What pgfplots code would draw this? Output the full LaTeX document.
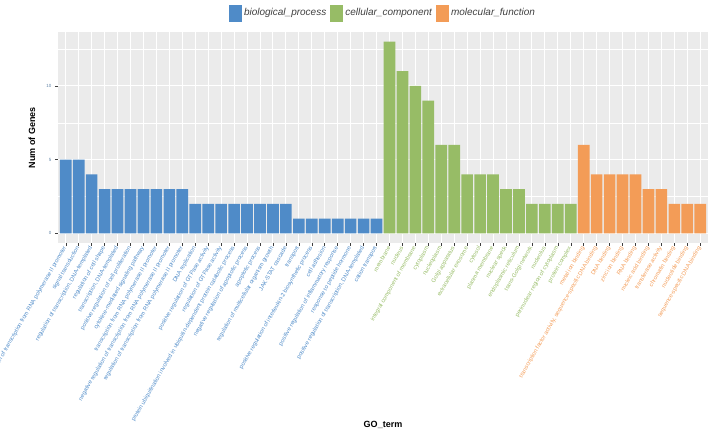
\documentclass[border=0pt]{standalone}
\usepackage{fontspec}
\setmainfont{Liberation Sans}
\usepackage{xcolor}
\usepackage{pgfplots}
\usepackage{pgfplotstable}
\pgfplotsset{compat=1.18}
\usetikzlibrary{calc}

\definecolor{bp}{RGB}{79,139,200}
\definecolor{cc}{RGB}{151,188,102}
\definecolor{mf}{RGB}{243,156,87}
\definecolor{panel}{RGB}{235,235,235}
\definecolor{ytxt}{RGB}{95,130,165}

\newcommand{\B}[1]{\textcolor{bp}{#1}}
\newcommand{\C}[1]{\textcolor{cc}{#1}}
\newcommand{\M}[1]{\textcolor{mf}{#1}}

% biological_process
\pgfplotstableread{
x y
1 5
2 5
3 4
4 3
5 3
6 3
7 3
8 3
9 3
10 3
11 2
12 2
13 2
14 2
15 2
16 2
17 2
18 2
19 1
20 1
21 1
22 1
23 1
24 1
25 1
}\bpdata

% cellular_component
\pgfplotstableread{
x y
26 13
27 11
28 10
29 9
30 6
31 6
32 4
33 4
34 4
35 3
36 3
37 2
38 2
39 2
40 2
}\ccdata

% molecular_function
\pgfplotstableread{
x y
41 6
42 4
43 4
44 4
45 4
46 3
47 3
48 2
49 2
50 2
}\mfdata

\begin{document}
\begin{tikzpicture}
\begin{axis}[
    name=ax,
    scale only axis,
    width=650pt,
    height=211pt,
    xmin=0.4, xmax=50.6,
    ymin=-0.65, ymax=13.65,
    axis background/.style={fill=panel},
    axis line style={draw=none},
    xtick={1,...,50},
    ytick={0,5,10},
    minor ytick={2.5,7.5,12.5},
    xmajorgrids, ymajorgrids, yminorgrids,
    major grid style={white, line width=0.9pt},
    minor grid style={white, line width=0.45pt},
    tick align=outside,
    xtick pos=bottom, ytick pos=left,
    major tick length=3pt,
    minor tick length=0pt,
    tick style={black!75, line width=0.5pt},
    yticklabel style={font=\fontsize{4.5}{5}\selectfont, text=ytxt,
        /pgf/number format/assume math mode=true},
    xticklabel style={rotate=60, anchor=east,
        font=\fontsize{5.8}{6}\selectfont, inner sep=1pt},
    xticklabels={
        {\B{positive regulation of transcription from RNA polymerase II promoter}},
        {\B{signal transduction}},
        {\B{regulation of transcription, DNA-templated}},
        {\B{regulation of cell shape}},
        {\B{transcription, DNA-templated}},
        {\B{positive regulation of cell proliferation}},
        {\B{cytokine-mediated signaling pathway}},
        {\B{transcription from RNA polymerase II promoter}},
        {\B{negative regulation of transcription from RNA polymerase II promoter}},
        {\B{regulation of transcription from RNA polymerase II promoter}},
        {\B{DNA replication}},
        {\B{positive regulation of GTPase activity}},
        {\B{regulation of GTPase activity}},
        {\B{protein ubiquitination involved in ubiquitin-dependent protein catabolic process}},
        {\B{negative regulation of apoptotic process}},
        {\B{apoptotic process}},
        {\B{regulation of multicellular organism growth}},
        {\B{JAK-STAT cascade}},
        {\B{transport}},
        {\B{positive regulation of interleukin-2 biosynthetic process}},
        {\B{cell adhesion}},
        {\B{positive regulation of inflammatory response}},
        {\B{response to peptide hormone}},
        {\B{positive regulation of transcription, DNA-templated}},
        {\B{cation transport}},
        {\C{membrane}},
        {\C{nucleus}},
        {\C{integral component of membrane}},
        {\C{cytoplasm}},
        {\C{nucleoplasm}},
        {\C{Golgi apparatus}},
        {\C{extracellular exosome}},
        {\C{cytosol}},
        {\C{plasma membrane}},
        {\C{nuclear speck}},
        {\C{endoplasmic reticulum}},
        {\C{trans-Golgi network}},
        {\C{nucleolus}},
        {\C{perinuclear region of cytoplasm}},
        {\C{protein complex}},
        {\M{metal ion binding}},
        {\M{transcription factor activity, sequence-specific DNA binding}},
        {\M{DNA binding}},
        {\M{zinc ion binding}},
        {\M{RNA binding}},
        {\M{nucleic acid binding}},
        {\M{transferase activity}},
        {\M{chromatin binding}},
        {\M{nucleotide binding}},
        {\M{sequence-specific DNA binding}}
    },
    xlabel={GO\_term},
    ylabel={Num of Genes},
    xlabel style={at={(axis description cs:0.5,-0.8626)}, anchor=center,
        font=\fontsize{9}{10}\selectfont\bfseries},
    ylabel style={at={(axis description cs:-0.04,0.5)}, anchor=center,
        rotate=0, font=\fontsize{9}{10}\selectfont\bfseries},
    legend style={at={(axis description cs:0.5,1.09)}, anchor=center,
        draw=none, fill=none, legend columns=3,
        font=\fontsize{10}{11}\selectfont\itshape, text=black!75,
        /tikz/every even column/.append style={column sep=2pt}},
    legend image code/.code={\fill[#1] (0pt,-8.5pt) rectangle (13pt,8.5pt);},
]
\addplot[ybar, bar width=0.9, fill=bp, draw=none] table[x=x, y=y] {\bpdata};
\addlegendentry{biological\_process}
\addplot[ybar, bar width=0.9, fill=cc, draw=none] table[x=x, y=y] {\ccdata};
\addlegendentry{cellular\_component}
\addplot[ybar, bar width=0.9, fill=mf, draw=none] table[x=x, y=y] {\mfdata};
\addlegendentry{molecular\_function}
\end{axis}
\pgfresetboundingbox
\path[use as bounding box] ($(ax.south west)+(-58pt,-195pt)$) rectangle ($(ax.north east)+(0pt,32pt)$);
\end{tikzpicture}
\end{document}
